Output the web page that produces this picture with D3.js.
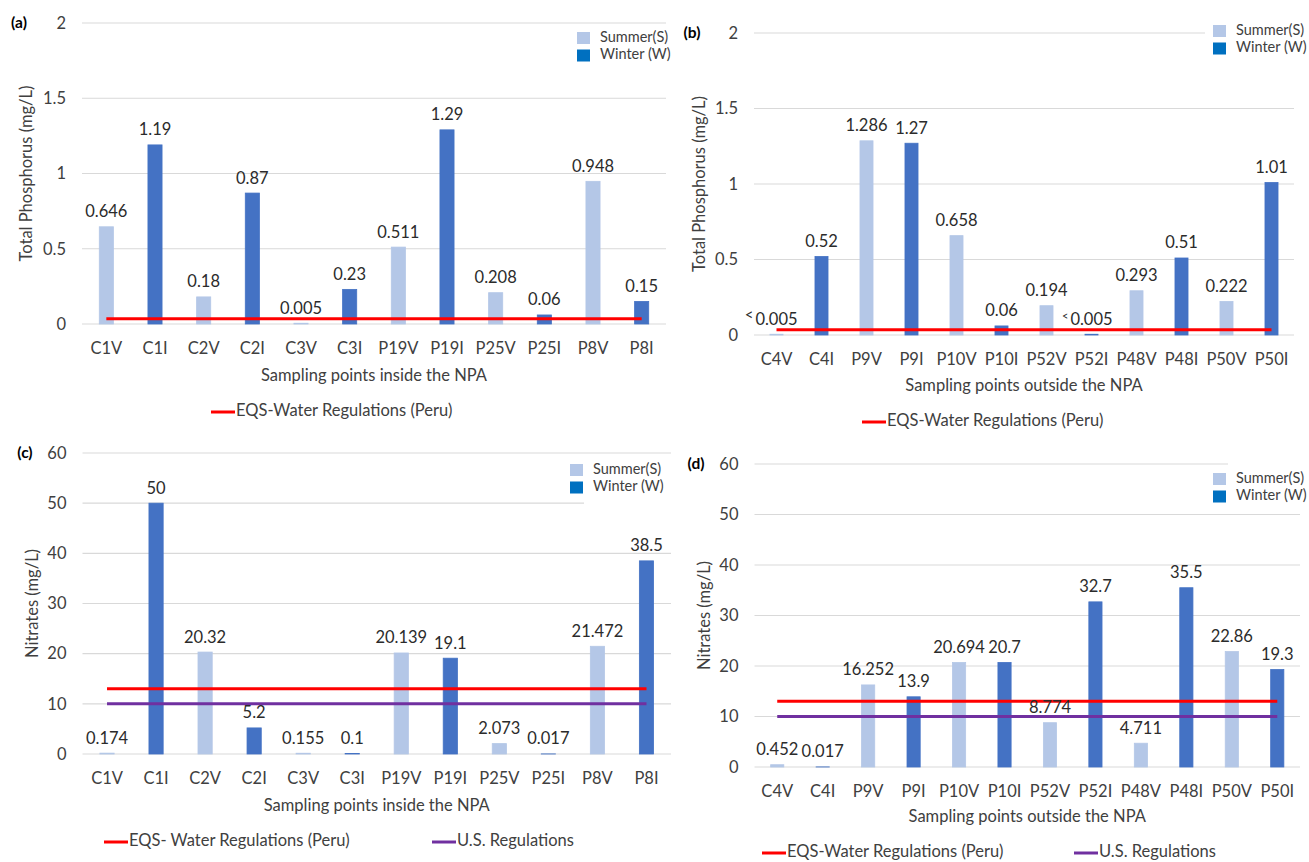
<!DOCTYPE html>
<html>
<head>
<meta charset="utf-8">
<script src="https://cdn.jsdelivr.net/npm/d3@7"></script>
<style>
  html, body { margin: 0; padding: 0; background: #fff; }
  svg { display: block; }
  text { font-family: Lato, "Open Sans", sans-serif; }
</style>
</head>
<body>
<svg id="chart" width="1309" height="862"></svg>
<script>
// Sampling points (V = summer campaign, I = winter campaign)
const insideCategories = ["C1V","C1I","C2V","C2I","C3V","C3I","P19V","P19I","P25V","P25I","P8V","P8I"];
const outsideCategories = ["C4V","C4I","P9V","P9I","P10V","P10I","P52V","P52I","P48V","P48I","P50V","P50I"];

// Total phosphorus (mg/L)
const phosphorusInside = [0.646, 1.19, 0.18, 0.87, 0.005, 0.23, 0.511, 1.29, 0.208, 0.06, 0.948, 0.15];
const phosphorusOutside = [0.005, 0.52, 1.286, 1.27, 0.658, 0.06, 0.194, 0.005, 0.293, 0.51, 0.222, 1.01];
const phosphorusOutsidePrefix = ["<", "", "", "", "", "", "", "<", "", "", "", ""];

// Nitrates (mg/L)
const nitratesInside = [0.174, 50, 20.32, 5.2, 0.155, 0.1, 20.139, 19.1, 2.073, 0.017, 21.472, 38.5];
const nitratesOutside = [0.452, 0.017, 16.252, 13.9, 20.694, 20.7, 8.774, 32.7, 4.711, 35.5, 22.86, 19.3];

// Axis ticks
const phosphorusTicks = [0, 0.5, 1, 1.5, 2];
const nitrateTicks = [0, 10, 20, 30, 40, 50, 60];

// Regulatory limits (mg/L)
const eqsPhosphorus = 0.035;
const eqsNitrates = 13;
const usNitrates = 10;

const seasonNames = ["Summer(S)", "Winter (W)"];

const COLORS = {
  summer: "#B4C7E7",
  winter: "#4472C4",
  winterKey: "#0070C0",
  eqs: "#FF0000",
  us: "#7030A0",
  grid: "#D9D9D9",
  text: "#404040",
  label: "#2b2b2b"
};

const svg = d3.select("#chart");
svg.append("rect").attr("width", 1309).attr("height", 862).attr("fill", "#fff");

const panels = [
  {
    letter: "(a)", letterX: 19, cats: insideCategories, values: phosphorusInside, prefixes: null,
    ticks: phosphorusTicks, left: 82, right: 666, top: 23, zero: 324,
    yTitle: "Total Phosphorus (mg/L)", yTitleX: 28, xTitle: "Sampling points inside the NPA", xTitleY: 381,
    limits: [{ value: eqsPhosphorus, color: COLORS.eqs }],
    keyX: 577, keyY: 32, mask: null,
    bottomY: 412, bottom: [{ x: 211, text: "EQS-Water Regulations (Peru)", color: COLORS.eqs }]
  },
  {
    letter: "(b)", letterX: 692, cats: outsideCategories, values: phosphorusOutside, prefixes: phosphorusOutsidePrefix,
    ticks: phosphorusTicks, left: 754, right: 1294, top: 33, zero: 335,
    yTitle: "Total Phosphorus (mg/L)", yTitleX: 701, xTitle: "Sampling points outside the NPA", xTitleY: 391,
    limits: [{ value: eqsPhosphorus, color: COLORS.eqs }],
    keyX: 1213, keyY: 25, mask: { x: 1205, y: 18, w: 104, h: 44 },
    bottomY: 422, bottom: [{ x: 862, text: "EQS-Water Regulations (Peru)", color: COLORS.eqs }]
  },
  {
    letter: "(c)", letterX: 25, cats: insideCategories, values: nitratesInside, prefixes: null,
    ticks: nitrateTicks, left: 82.5, right: 671, top: 453, zero: 754,
    yTitle: "Nitrates (mg/L)", yTitleX: 34, xTitle: "Sampling points inside the NPA", xTitleY: 811,
    limits: [{ value: eqsNitrates, color: COLORS.eqs }, { value: usNitrates, color: COLORS.us }],
    keyX: 570, keyY: 464, mask: { x: 584, y: 498, w: 96, h: 10 },
    bottomY: 842, bottom: [
      { x: 104, text: "EQS- Water Regulations (Peru)", color: COLORS.eqs },
      { x: 432, text: "U.S. Regulations", color: COLORS.us }
    ]
  },
  {
    letter: "(d)", letterX: 696, cats: outsideCategories, values: nitratesOutside, prefixes: null,
    ticks: nitrateTicks, left: 754.5, right: 1300, top: 464, zero: 767,
    yTitle: "Nitrates (mg/L)", yTitleX: 706, xTitle: "Sampling points outside the NPA", xTitleY: 822,
    limits: [{ value: eqsNitrates, color: COLORS.eqs }, { value: usNitrates, color: COLORS.us }],
    keyX: 1213, keyY: 473, mask: { x: 1228, y: 458, w: 81, h: 12 },
    bottomY: 853, bottom: [
      { x: 762, text: "EQS-Water Regulations (Peru)", color: COLORS.eqs },
      { x: 1074, text: "U.S. Regulations", color: COLORS.us }
    ]
  }
];

function seasonOf(cat) { return cat.endsWith("V") ? "summer" : "winter"; }

panels.forEach(p => {
  const g = svg.append("g");
  const x = d3.scaleBand().domain(p.cats).range([p.left, p.right]).padding(0);
  const y = d3.scaleLinear().domain([0, d3.max(p.ticks)]).range([p.zero, p.top]);
  const barW = x.bandwidth() * 0.29;
  const cx = c => x(c) + x.bandwidth() / 2;

  // gridlines
  g.append("g").selectAll("line").data(p.ticks).join("line")
    .attr("x1", p.left).attr("x2", p.right)
    .attr("y1", d => y(d)).attr("y2", d => y(d))
    .attr("stroke", COLORS.grid).attr("stroke-width", 1.2);

  // y axis labels
  const yAxis = g.append("g").attr("transform", `translate(${p.left},0)`)
    .call(d3.axisLeft(y).tickValues(p.ticks).tickSize(0).tickPadding(16).tickFormat(d => String(d)));
  yAxis.select(".domain").remove();
  yAxis.selectAll("text").attr("fill", COLORS.text).style("font-size", "16.5px").style("font-family", "Lato");

  // x axis labels
  const xAxis = g.append("g").attr("transform", `translate(0,${p.zero})`)
    .call(d3.axisBottom(x).tickSize(0).tickPadding(18));
  xAxis.select(".domain").remove();
  xAxis.selectAll("text").attr("fill", COLORS.text).style("font-size", "16.5px").style("font-family", "Lato");

  // bars
  const rows = p.cats.map((c, i) => ({ cat: c, value: p.values[i], prefix: p.prefixes ? p.prefixes[i] : "" }));
  g.append("g").selectAll("rect").data(rows).join("rect")
    .attr("x", d => cx(d.cat) - barW / 2)
    .attr("width", barW)
    .attr("y", d => y(d.value))
    .attr("height", d => p.zero - y(d.value))
    .attr("fill", d => COLORS[seasonOf(d.cat)])
    .attr("stroke", d => COLORS[seasonOf(d.cat)])
    .attr("stroke-width", 0.8);

  // regulatory limit lines
  const first = cx(p.cats[0]), last = cx(p.cats[p.cats.length - 1]);
  g.append("g").selectAll("line").data(p.limits).join("line")
    .attr("x1", first).attr("x2", last)
    .attr("y1", d => y(d.value)).attr("y2", d => y(d.value))
    .attr("stroke", d => d.color).attr("stroke-width", 3);

  // value labels
  const labels = g.append("g").selectAll("g").data(rows).join("g");
  labels.append("text")
    .attr("class", "val")
    .attr("x", d => cx(d.cat))
    .attr("y", d => y(d.value) - 9.5)
    .attr("text-anchor", "middle")
    .attr("fill", COLORS.label)
    .style("font-size", "16.5px")
    .text(d => String(d.value));
  labels.filter(d => d.prefix).each(function(d, i) {
    const grp = d3.select(this);
    const w = grp.select("text.val").node().getComputedTextLength();
    grp.append("text")
      .attr("x", cx(d.cat) - w / 2 - 2)
      .attr("y", y(d.value) - 14)
      .attr("text-anchor", "end")
      .attr("fill", COLORS.label)
      .style("font-size", i === 0 ? "15px" : "11px")
      .text(d.prefix);
  });

  // panel letter
  g.append("text").attr("x", p.letterX).attr("y", p.top + 5)
    .attr("text-anchor", "middle").attr("fill", "#000")
    .style("font-size", "15.5px").style("font-weight", "bold")
    .text(p.letter);

  // axis titles
  g.append("text")
    .attr("transform", `translate(${p.yTitleX},${(p.top + p.zero) / 2}) rotate(-90)`)
    .attr("text-anchor", "middle").attr("dominant-baseline", "middle")
    .attr("fill", COLORS.text).style("font-size", "16.5px")
    .text(p.yTitle);
  g.append("text")
    .attr("x", (p.left + p.right) / 2).attr("y", p.xTitleY)
    .attr("text-anchor", "middle").attr("fill", COLORS.text).style("font-size", "16.5px")
    .text(p.xTitle);

  // season key
  if (p.mask) {
    g.append("rect").attr("x", p.mask.x).attr("y", p.mask.y)
      .attr("width", p.mask.w).attr("height", p.mask.h).attr("fill", "#fff");
  }
  const keyColors = [COLORS.summer, COLORS.winterKey];
  const key = g.append("g").selectAll("g").data(seasonNames).join("g")
    .attr("transform", (d, i) => `translate(${p.keyX},${p.keyY + i * 17.5})`);
  key.append("rect").attr("width", 13).attr("height", 12).attr("fill", (d, i) => keyColors[i]);
  key.append("text").attr("x", 23).attr("y", 6)
    .attr("dominant-baseline", "middle").attr("fill", COLORS.text)
    .style("font-size", "14.5px").text(d => d);

  // limits key
  const bk = g.append("g").selectAll("g").data(p.bottom).join("g")
    .attr("transform", d => `translate(${d.x},${p.bottomY})`);
  bk.append("line").attr("x1", 0).attr("x2", 24).attr("y1", 0).attr("y2", 0)
    .attr("stroke", d => d.color).attr("stroke-width", 3);
  bk.append("text").attr("x", 25).attr("y", 0).attr("dominant-baseline", "middle")
    .attr("fill", COLORS.text).style("font-size", "16.5px").text(d => d.text);
});
</script>
</body>
</html>
